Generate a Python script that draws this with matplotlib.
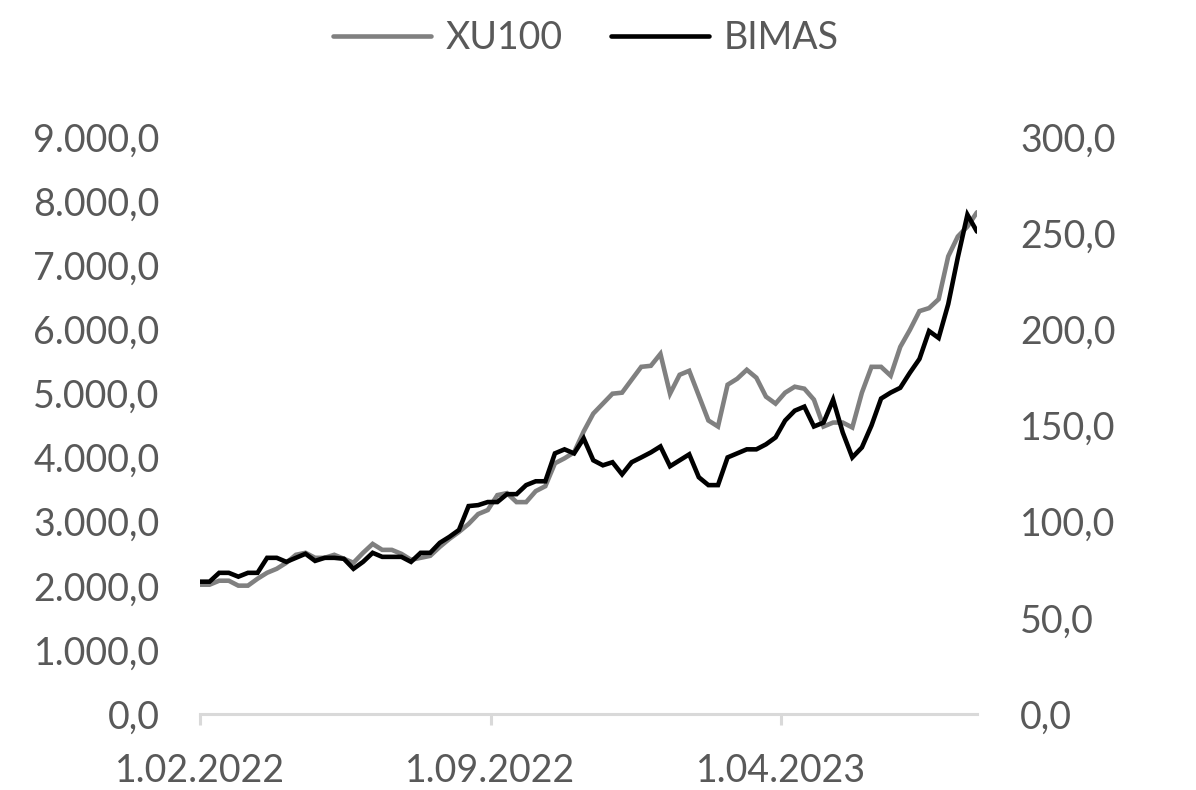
import numpy as np
import pandas as pd
import matplotlib
matplotlib.use("Agg")
import matplotlib.pyplot as plt
import matplotlib.dates as mdates
from matplotlib.ticker import FuncFormatter, MultipleLocator

# weekly closes
dates = pd.date_range("2022-02-01", periods=82, freq="7D")

xu100 = [
    2017, 2017, 2079, 2079, 2002, 2002, 2110, 2203, 2265, 2359,
    2483, 2514, 2436, 2436, 2483, 2421, 2359, 2514, 2653, 2560,
    2560, 2498, 2405, 2436, 2467, 2607, 2731, 2840, 2964, 3119,
    3181, 3414, 3445, 3305, 3305, 3476, 3553, 3910, 3988, 4081,
    4407, 4686, 4841, 4996, 5012, 5214, 5415, 5431, 5617, 4996,
    5291, 5353, 4965, 4578, 4484, 5136, 5229, 5369, 5245, 4950,
    4841, 5012, 5105, 5074, 4903, 4484, 4546, 4546, 4469, 5012,
    5415, 5415, 5276, 5726, 5990, 6284, 6331, 6470, 7138, 7448,
    7603, 7826,
]

bimas = [
    68.8, 68.8, 73.4, 73.4, 71.4, 73.4, 73.4, 81.2, 81.2, 79.1,
    81.2, 83.3, 79.6, 81.2, 81.2, 80.7, 75.5, 79.1, 83.8, 81.7,
    81.7, 81.7, 79.1, 83.8, 83.8, 89.0, 92.1, 95.7, 108.1, 108.6,
    110.2, 110.2, 114.3, 114.3, 119.0, 121.0, 121.0, 135.5, 137.6, 135.5,
    143.3, 131.9, 129.3, 130.9, 124.6, 130.9, 133.4, 136.0, 139.1, 128.8,
    131.9, 135.0, 123.1, 119.0, 119.0, 133.4, 135.5, 137.6, 137.6, 140.2,
    143.8, 152.6, 157.7, 159.8, 149.5, 151.5, 163.4, 146.4, 133.4, 138.6,
    150.0, 164.0, 167.1, 169.6, 177.4, 184.6, 199.1, 195.5, 213.1, 237.4,
    259.6, 250.8,
]

tick_dates = pd.to_datetime(["2022-02-01", "2022-09-01", "2023-04-01"])

TXT = "#595959"
AX = "#d9d9d9"
FS = 27

plt.rcParams["font.family"] = ["Lato", "DejaVu Sans"]


def tr_fmt(v, _pos=None):
    s = f"{v:,.1f}"
    return s.replace(",", "X").replace(".", ",").replace("X", ".")


def date_fmt(v, _pos=None):
    d = mdates.num2date(v)
    return f"{d.day}.{d.month:02d}.{d.year}"


fig = plt.figure(figsize=(11.96, 7.90), dpi=100)
ax = fig.add_axes([0.1672, 0.0962, 0.6497, 0.7304])
ax2 = ax.twinx()

l1, = ax.plot(dates, xu100, color="#808080", lw=3.3, label="XU100",
              solid_joinstyle="miter", solid_capstyle="round")
l2, = ax2.plot(dates, bimas, color="black", lw=3.3, label="BIMAS",
               solid_joinstyle="miter", solid_capstyle="round")

ax.set_xlim(dates[0], dates[-1])
ax.set_ylim(0, 9000)
ax2.set_ylim(0, 300)
ax.yaxis.set_major_locator(MultipleLocator(1000))
ax2.yaxis.set_major_locator(MultipleLocator(50))
ax.yaxis.set_major_formatter(FuncFormatter(tr_fmt))
ax2.yaxis.set_major_formatter(FuncFormatter(tr_fmt))

ax.set_xticks(tick_dates)
ax.xaxis.set_major_formatter(FuncFormatter(date_fmt))

for a in (ax, ax2):
    for s in a.spines.values():
        s.set_visible(False)
ax.spines["bottom"].set_visible(True)
ax.spines["bottom"].set_color(AX)
ax.spines["bottom"].set_linewidth(2.2)

ax.tick_params(axis="x", colors=AX, length=8, width=2.2, direction="out",
               pad=20, labelsize=FS, labelcolor=TXT)
ax.tick_params(axis="y", length=0, pad=29, labelsize=FS, labelcolor=TXT)
ax2.tick_params(axis="y", length=0, pad=31, labelsize=FS, labelcolor=TXT)

fig.legend(handles=[l1, l2], loc="center", bbox_to_anchor=(0.49, 0.952),
           ncol=2, frameon=False, fontsize=FS, labelcolor=TXT,
           handlelength=2.6, handletextpad=0.4, columnspacing=1.3)

fig.savefig("out.png", dpi=100, facecolor="white")
